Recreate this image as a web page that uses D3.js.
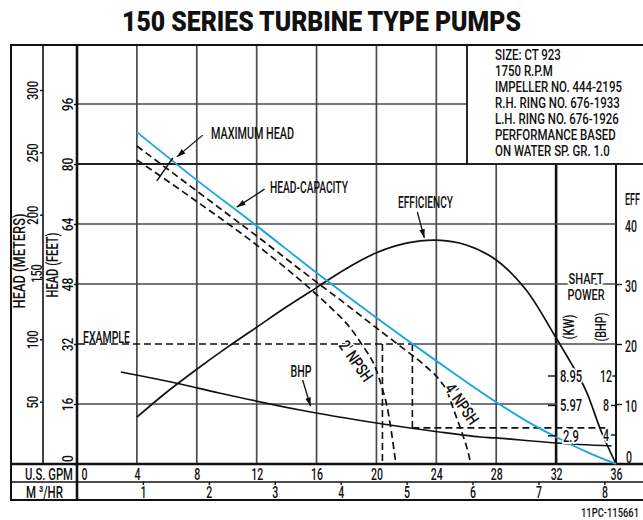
<!DOCTYPE html>
<html><head><meta charset="utf-8">
<script src="https://cdn.jsdelivr.net/npm/d3@7"></script>
<style>body{margin:0;background:#fff}svg{display:block}</style>
</head><body>
<svg id="c" width="643" height="520"></svg>
<script>
// ---------- data ----------
const gpmTicks = [0,4,8,12,16,20,24,28,32,36];
const m3Ticks = [1,2,3,4,5,6,7,8];
const ftTicks = [0,16,32,48,64,80,96];
const meterTicks = [50,100,150,200,250,300];
const effTicks = [0,10,20,30,40];
const bhpTicks = [4,8,12];
const kwTicks = [2.9,5.97,8.95];
const infoLines = ["SIZE: CT 923","1750 R.P.M","IMPELLER NO. 444-2195","R.H. RING NO. 676-1933","L.H. RING NO. 676-1926","PERFORMANCE BASED","ON WATER SP. GR. 1.0"];
// head-capacity (GPM, feet)
const headCapacity = [[4,88.5],[8,75.7],[12,63.5],[16,51],[20,39],[24,27.5],[28,16.5],[30,11.5],[32,7.2],[34,3.3],[36,0]];
// NPSH curves (GPM, feet)
const npsh4 = [[4,84.8],[8,72.8],[12,60.8],[16,48.5],[18,42.5],[20,36.3],[21.5,31.7],[23.3,26],[24.2,22.5],[24.7,19.5],[25.2,14],[25.7,8.5],[26.1,3.5],[26.3,0]];
const npsh2 = [[4,81.1],[8,70],[12,58.4],[16,45.2],[17,41.5],[18,37.5],[19,32],[20,25],[20.4,20],[20.7,15.5],[21,8.5],[21.3,0]];
// efficiency (GPM, %)
const efficiency = [[4,7.8],[6,12],[8,15.8],[10,19.4],[12,22.8],[14,26.2],[16,29.4],[18,32.6],[20,35.2],[22,36.8],[24,37.3],[26,36.5],[28,34],[30,29],[32,21],[33,16.8],[34,12.2],[35,5.5],[36,0]];
// brake horsepower (GPM, BHP)
const bhp = [[2.93,12.47],[6.9,10.85],[9.5,9.63],[14.9,7.32],[20,5.56],[24.2,4.34],[26.9,3.66],[28,3.53],[32,2.85],[35.7,2.44]];
// example
const exampleHead = 32, exampleGpm = 22.4, exampleBhp = 4.9, exampleNpshGpm = 20.4;
const maxHeadMark = [[6.4,81.6],[5.33,75.5]];

// ---------- setup ----------
const svg = d3.select('#c');
svg.append('rect').attr('width',643).attr('height',520).attr('fill','#fff');
const FONT = 'Roboto, "Liberation Sans", Arial, sans-serif';
const W = 500;
const x = d3.scaleLinear().domain([0,36]).range([77,616]);
const xM3 = d3.scaleLinear().domain([0,36/4.403]).range([77,616]);
const yFt = d3.scaleLinear().domain([0,96]).range([464,104]);
const yM = d3.scaleLinear().domain([0,300]).range([464,90]);
const yEff = d3.scaleLinear().domain([0,40]).range([464,224]);
const yBhp = d3.scaleLinear().domain([0,12]).range([464,375.5]);
const yKw = d3.scaleLinear().domain([0,8.95]).range([464,375.5]);
const GRID = '#4a4a4a';

function label(parent, px, py, s, o = {}) {
  const size = o.size || 16.5;
  const g = parent.append('g').attr('transform', `translate(${px},${py}) rotate(${o.rot||0})`);
  const t = g.append('text').text(s)
    .attr('font-family', FONT).attr('font-size', size)
    .attr('font-weight', o.weight || W)
    .attr('text-anchor', o.anchor || 'start')
    .attr('y', 0.355 * size).attr('fill', '#111');
  if (o.halo) t.attr('stroke', '#fff').attr('stroke-width', o.halo).attr('paint-order', 'stroke').attr('stroke-linejoin','round');
  let sx = o.sx || 0.66;
  if (o.fit) sx = o.fit / t.node().getComputedTextLength();
  t.attr('transform', `scale(${sx},1)`);
  return sx;
}
function seg(x1,y1,x2,y2,stroke,w,dash){
  const l = svg.append('line').attr('x1',x1).attr('y1',y1).attr('x2',x2).attr('y2',y2)
    .attr('stroke',stroke).attr('stroke-width',w);
  if (dash) l.attr('stroke-dasharray',dash);
  return l;
}

// ---------- grid ----------
gpmTicks.filter(g => g > 0 && g < 32).forEach(g => {
  const xx = x(g);
  seg(xx, xx > 467 ? 165 : 45, xx, 464, GRID, 1.7);
});
seg(x(36), 165, x(36), 464, '#111', 2);
seg(x(32), 165, x(32), 464, '#111', 2.6);
ftTicks.filter(f => f > 0).forEach(f => {
  const yy = yFt(f);
  if (f === 96) seg(77, yy, 467, yy, GRID, 1.7);
  else if (f === 80) seg(77, yy, 643, yy, '#222', 1.9);
  else if (f === 64 || f === 48) seg(77, yy, 616, yy, GRID, 1.7);
  else if (f === 32) seg(x(exampleGpm), yy, 616, yy, GRID, 1.7);
  else seg(77, yy, 557, yy, GRID, 1.7);
});

// ---------- frame ----------
seg(11, 45, 643, 45, '#111', 2);
seg(11, 44, 11, 501, '#111', 2);
seg(43, 45, 43, 464, '#111', 1.6);
seg(77, 45, 77, 501, '#111', 2.6);
seg(467, 45, 467, 165, '#111', 1.8);
seg(11, 464, 643, 464, '#111', 2.6);
seg(11, 482, 643, 482, '#111', 1.6);
seg(11, 500, 643, 500, '#111', 2);

// ---------- axes ----------
function styleAxis(g){ g.attr('font-family', FONT).attr('font-weight', W).select('.domain').remove(); g.selectAll('line').attr('stroke','#111').attr('stroke-width',1.4); }
// GPM
const gx = svg.append('g').attr('transform','translate(0,464)')
  .call(d3.axisBottom(x).tickValues(gpmTicks).tickSize(0).tickFormat(d3.format('d')));
styleAxis(gx);
gx.selectAll('text').attr('font-size',17).attr('fill','#111').attr('dy',null)
  .attr('y', 9.6 + 0.355*17).attr('text-anchor','middle')
  .attr('transform', d => d === 0 ? 'translate(7,0) scale(0.62,1)' : 'scale(0.62,1)');
// M3/HR
const gm = svg.append('g').attr('transform','translate(0,482)')
  .call(d3.axisBottom(xM3).tickValues(m3Ticks).tickSize(3).tickFormat(d3.format('d')));
styleAxis(gm);
gm.selectAll('text').attr('font-size',17).attr('fill','#111').attr('dy',null)
  .attr('y', 10.2 + 0.355*17).attr('text-anchor','middle').attr('transform','scale(0.62,1)');
// head feet (inner column)
const gf = svg.append('g').attr('transform','translate(77,0)')
  .call(d3.axisLeft(yFt).tickValues(ftTicks).tickSize(3).tickFormat(d3.format('d')));
styleAxis(gf);
gf.selectAll('text').attr('font-size',14).attr('fill','#111').attr('dy',null).attr('x',0)
  .attr('y', 0.355*14).attr('text-anchor','middle')
  .attr('transform', d => d === 0 ? 'translate(-9,-6) rotate(-90) scale(0.85,1)' : 'translate(-9,0) rotate(-90) scale(0.85,1)');
// head meters (outer column)
const gmt = svg.append('g').attr('transform','translate(43,0)')
  .call(d3.axisLeft(yM).tickValues(meterTicks).tickSize(3).tickFormat(d3.format('d')));
styleAxis(gmt);
gmt.selectAll('text').attr('font-size',14).attr('fill','#111').attr('dy',null).attr('x',0)
  .attr('y', 0.355*14).attr('text-anchor','middle')
  .attr('transform', d => d === 150 ? 'translate(-6,-4) rotate(-90) scale(0.78,1)' : 'translate(-10,0) rotate(-90) scale(0.8,1)');
// efficiency axis
const ge = svg.append('g').attr('transform','translate(616,0)')
  .call(d3.axisRight(yEff).tickValues(effTicks).tickSize(6).tickFormat(d3.format('d')));
styleAxis(ge);
ge.selectAll('.tick line').filter(d => d === 0 || d === 40).remove();
ge.selectAll('text').attr('font-size',16.5).attr('fill','#111').attr('dy',null).attr('x',0)
  .attr('y', 0.355*16.5).attr('text-anchor','start')
  .attr('transform', d => d === 0 ? 'translate(10,-7) scale(0.64,1)' : 'translate(9,1.5) scale(0.64,1)');
// BHP axis
const gb = svg.append('g').attr('transform','translate(616,0)')
  .call(d3.axisLeft(yBhp).tickValues(bhpTicks).tickSize(5).tickFormat(d3.format('d')));
styleAxis(gb);
gb.selectAll('text').attr('font-size',16.5).attr('fill','#111').attr('dy',null).attr('x',0)
  .attr('y', 0.355*16.5).attr('text-anchor','end')
  .attr('stroke','#fff').attr('stroke-width',4).attr('paint-order','stroke')
  .attr('transform', d => `translate(${d===12?-4:-7},0) scale(0.64,1)`);
// KW axis
const gk = svg.append('g').attr('transform','translate(557,0)')
  .call(d3.axisLeft(yKw).tickValues(kwTicks).tickSize(9).tickFormat(d => String(d)));
styleAxis(gk);
gk.selectAll('text').attr('font-size',16.5).attr('fill','#111').attr('dy',null).attr('x',0)
  .attr('y', 0.355*16.5).attr('text-anchor','start')
  .attr('stroke','#fff').attr('stroke-width',4).attr('paint-order','stroke')
  .attr('transform', d => `translate(${d===2.9?6:3},0) scale(0.68,1)`);

// ---------- example dashed lines ----------
const DASH = '7,4';
seg(78, yFt(exampleHead), x(exampleGpm), yFt(exampleHead), '#111', 1.6, DASH);
seg(x(exampleGpm), yFt(exampleHead), x(exampleGpm), yBhp(exampleBhp), '#111', 1.6, DASH);
seg(x(exampleGpm), yBhp(exampleBhp), 607, yBhp(exampleBhp), '#111', 1.6, DASH);
seg(x(exampleNpshGpm), yFt(exampleHead), x(exampleNpshGpm), 463, '#111', 1.6, DASH);

// ---------- curves ----------
const smooth = d3.curveCatmullRom.alpha(0.5);
const lineFt = d3.line().x(d => x(d[0])).y(d => yFt(d[1])).curve(d3.curveMonotoneX);
const lineEff = d3.line().x(d => x(d[0])).y(d => yEff(d[1])).curve(smooth);
const lineBhp = d3.line().x(d => x(d[0])).y(d => yBhp(d[1])).curve(smooth);
svg.append('path').attr('d', lineFt(npsh2)).attr('fill','none').attr('stroke','#111').attr('stroke-width',1.7).attr('stroke-dasharray',DASH);
svg.append('path').attr('d', lineFt(npsh4)).attr('fill','none').attr('stroke','#111').attr('stroke-width',1.7).attr('stroke-dasharray',DASH);
svg.append('path').attr('d', lineBhp(bhp)).attr('fill','none').attr('stroke','#111').attr('stroke-width',1.7);
svg.append('path').attr('d', lineEff(efficiency)).attr('fill','none').attr('stroke','#111').attr('stroke-width',1.7);
svg.append('path').attr('d', lineFt(headCapacity)).attr('fill','none').attr('stroke','#1aa6de').attr('stroke-width',1.9);
svg.append('path').attr('d', d3.line().x(d => x(d[0])).y(d => yFt(d[1]))(maxHeadMark)).attr('stroke','#111').attr('stroke-width',1.5);

// re-draw KW/BHP labels on top (halo gaps over curves)
gk.raise(); gb.raise();

// ---------- annotations ----------
const defs = svg.append('defs');
defs.append('marker').attr('id','ah').attr('viewBox','0 -4 10 8').attr('refX',10).attr('refY',0)
  .attr('markerWidth',9).attr('markerHeight',7).attr('markerUnits','userSpaceOnUse').attr('orient','auto')
  .append('path').attr('d','M0,-3.2L10,0L0,3.2Z').attr('fill','#111');
function arrow(a, b, yS){ svg.append('line').attr('x1',x(a[0])).attr('y1',yS(a[1])).attr('x2',x(b[0])).attr('y2',yS(b[1]))
  .attr('stroke','#111').attr('stroke-width',1.3).attr('marker-end','url(#ah)'); }
arrow([8.4,87.7],[6.67,81.9], yFt);
arrow([12.53,73.3],[10.67,68.5], yFt);
arrow([22.73,67.2],[23.2,60.3], yFt);
arrow([15.07,22.4],[15.6,15.4], yFt);

label(svg, 211, 133, 'MAXIMUM HEAD', {fit:83});
label(svg, 270, 187, 'HEAD-CAPACITY', {fit:78});
label(svg, 398, 202, 'EFFICIENCY', {fit:55});
label(svg, 301, 371, 'BHP', {fit:21, anchor:'middle'});
label(svg, 83, 337, 'EXAMPLE', {fit:47});
label(svg, 356, 361, "2' NPSH", {fit:46, anchor:'middle', rot:55, halo:3});
label(svg, 462, 404, "4' NPSH", {fit:46, anchor:'middle', rot:55, halo:3});

// shaft power block
label(svg, 586, 279, 'SHAFT', {fit:35, anchor:'middle', halo:5, size:15});
label(svg, 586, 294.5, 'POWER', {fit:37, anchor:'middle', halo:5, size:15});
label(svg, 569, 327, '(KW)', {fit:25, anchor:'middle', rot:-90, size:15});
label(svg, 601, 327, '(BHP)', {fit:29, anchor:'middle', rot:-90, size:15});
label(svg, 625, 199, 'EFF', {fit:15});

// axis titles
label(svg, 19, 261, 'HEAD (METERS)', {fit:95, anchor:'middle', rot:-90, size:16});
label(svg, 52.5, 265, 'HEAD (FEET)', {fit:65, anchor:'middle', rot:-90, size:16});
label(svg, 25, 473.5, 'U.S. GPM', {fit:48, size:17});
label(svg, 26, 492, 'M \u00B3/HR', {fit:37, size:17});

// info box
const isx = (() => { const g = svg.append('g'); const s = label(g, 0, 0, infoLines[2], {fit:127, size:15.5}); g.remove(); return s; })();
infoLines.forEach((s, i) => label(svg, 495, 54 + i * 16, s, {sx: isx, size:15.5}));

// title & footer
label(svg, 321.5, 21, '150 SERIES TURBINE TYPE PUMPS', {fit:399, anchor:'middle', size:28, weight:900});
label(svg, 639, 513, '11PC-115661', {fit:58, anchor:'end', size:12.5});
</script>
</body></html>
